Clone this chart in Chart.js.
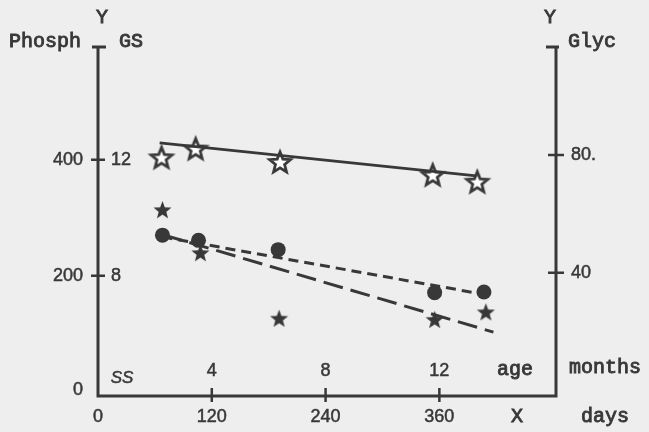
<!DOCTYPE html>
<html>
<head>
<meta charset="utf-8">
<script src="https://cdn.jsdelivr.net/npm/chart.js@4.4.0/dist/chart.umd.min.js"></script>
<style>
  html, body { margin: 0; padding: 0; background: #eeeeee; }
  canvas { display: block; }
</style>
</head>
<body>
<canvas id="ageChart" width="649" height="432"></canvas>
<script>
const openStarDays = [67, 103, 192, 353, 400];
const openStarValues = [404, 419, 396, 374, 362];
const filledStarDays = [68, 108, 191, 355, 409];
const filledStarValues = [314, 240, 127, 125, 138];
const circleDays = [68, 106, 190, 355, 407];
const circleValues = [270, 261, 245, 171, 172];

// fitted lines, end points only
const solidLineDays = [65, 399];
const solidLineValues = [429, 372];
const shortDashDays = [68, 407];
const shortDashValues = [267, 168];
const longDashDays = [68, 417];
const longDashValues = [271, 103];

// ticks
const dayTicks = [0, 120, 240, 360];
const monthTicks = [4, 8, 12];
const phosphTicks = [0, 200, 400];
const gsTicks = [8, 12];
const glycTicks = [40, 80];
const glycTickLabels = ['40', '80.'];

const ink = '#383838';
const mono = '"Liberation Mono", "Courier New", monospace';
const sans = '"Liberation Sans", Arial, sans-serif';

function toPoints(xs, ys) {
  return xs.map(function(x, i) { return { x: x, y: ys[i] }; });
}

function makeStar(outer, inner, fill, lineWidth) {
  const size = Math.ceil(outer * 2 + lineWidth * 2 + 2);
  const c = document.createElement('canvas');
  c.width = size;
  c.height = size;
  const g = c.getContext('2d');
  g.beginPath();
  for (let i = 0; i < 10; i++) {
    const r = i % 2 === 0 ? outer : inner;
    const ang = -Math.PI / 2 + i * Math.PI / 5;
    const px = size / 2 + r * Math.cos(ang);
    const py = size / 2 + 1 + r * Math.sin(ang);
    if (i === 0) g.moveTo(px, py); else g.lineTo(px, py);
  }
  g.closePath();
  g.fillStyle = fill;
  g.fill();
  if (lineWidth) {
    g.lineWidth = lineWidth;
    g.strokeStyle = ink;
    g.lineJoin = 'miter';
    g.stroke();
  }
  return c;
}

const openStar = makeStar(11, 4.8, '#ffffff', 2.8);
const filledStar = makeStar(9.5, 4, ink, 0);

// text with a hairline stroke so it looks like the typed original
function inkText(ctx, str, x, y) {
  ctx.fillText(str, x, y);
  ctx.strokeText(str, x, y);
}

// axes, tick marks and all the labels
const axesPlugin = {
  id: 'paperAxes',
  beforeDatasetsDraw: function(chart) {
    const ctx = chart.ctx;
    const a = chart.chartArea;
    const s = chart.scales;
    ctx.save();
    ctx.strokeStyle = ink;
    ctx.fillStyle = ink;
    ctx.lineWidth = 3;

    ctx.beginPath();
    ctx.moveTo(a.left, a.top);
    ctx.lineTo(a.left, a.bottom);
    ctx.lineTo(a.right, a.bottom);
    ctx.lineTo(a.right, a.top);
    ctx.stroke();

    // caps on the top of both vertical axes
    ctx.beginPath();
    ctx.moveTo(a.left - 6, a.top);
    ctx.lineTo(a.left + 8, a.top);
    ctx.moveTo(a.right - 10, a.top);
    ctx.lineTo(a.right + 3, a.top);
    ctx.stroke();

    ctx.lineWidth = 2.5;
    ctx.beginPath();
    phosphTicks.forEach(function(v) {
      if (v === 0) return;
      const py = s.y.getPixelForValue(v);
      ctx.moveTo(a.left - 7, py);
      ctx.lineTo(a.left + 7, py);
    });
    glycTicks.forEach(function(v) {
      const py = s.y2.getPixelForValue(v);
      ctx.moveTo(a.right - 8, py);
      ctx.lineTo(a.right + 8, py);
    });
    dayTicks.forEach(function(v) {
      if (v === 0) return;
      const px = s.x.getPixelForValue(v);
      ctx.moveTo(px, a.bottom - 8);
      ctx.lineTo(px, a.bottom + 6);
    });
    ctx.stroke();

    ctx.lineWidth = 0.5;
    ctx.textBaseline = 'middle';
    ctx.font = '18px ' + sans;

    ctx.textAlign = 'right';
    phosphTicks.forEach(function(v) {
      inkText(ctx, String(v), a.left - 15, s.y.getPixelForValue(v) - (v === 0 ? 2 : 0));
    });

    ctx.textAlign = 'left';
    gsTicks.forEach(function(v) {
      inkText(ctx, String(v), a.left + 13, s.gs.getPixelForValue(v));
    });
    glycTicks.forEach(function(v, i) {
      inkText(ctx, glycTickLabels[i], a.right + 15, s.y2.getPixelForValue(v));
    });

    ctx.textAlign = 'center';
    dayTicks.forEach(function(v) {
      inkText(ctx, String(v), s.x.getPixelForValue(v), a.bottom + 21);
    });
    monthTicks.forEach(function(v) {
      inkText(ctx, String(v), s.months.getPixelForValue(v), a.bottom - 25);
    });

    ctx.font = 'italic 17px ' + sans;
    inkText(ctx, 'SS', a.left + 24, a.bottom - 18);

    ctx.lineWidth = 0.9;
    ctx.font = '20px ' + mono;
    inkText(ctx, 'Y', a.left + 4, 18);
    inkText(ctx, 'Phosph', 45, 42);
    inkText(ctx, 'GS', a.left + 33, 42);
    inkText(ctx, 'Y', a.right - 6, 18);
    inkText(ctx, 'Glyc', a.right + 36, 42);
    inkText(ctx, 'age', a.right - 41, a.bottom - 26);
    inkText(ctx, 'months', a.right + 49, a.bottom - 28);
    inkText(ctx, 'X', a.right - 39, a.bottom + 21);
    inkText(ctx, 'days', a.right + 49, a.bottom + 21);
    ctx.restore();
  }
};

const ctx = document.getElementById('ageChart').getContext('2d');
const ageChart = new Chart(ctx, {
  type: 'scatter',
  data: {
    datasets: [
      {
        label: 'solid fit',
        data: toPoints(solidLineDays, solidLineValues),
        showLine: true,
        borderColor: ink,
        borderWidth: 2.8,
        pointRadius: 0
      },
      {
        label: 'short dash fit',
        data: toPoints(shortDashDays, shortDashValues),
        showLine: true,
        borderColor: ink,
        borderWidth: 3,
        borderDash: [10, 6],
        pointRadius: 0
      },
      {
        label: 'long dash fit',
        data: toPoints(longDashDays, longDashValues),
        showLine: true,
        borderColor: ink,
        borderWidth: 3,
        borderDash: [20, 8],
        pointRadius: 0
      },
      {
        label: 'open stars',
        data: toPoints(openStarDays, openStarValues),
        pointStyle: openStar,
        pointRadius: 12
      },
      {
        label: 'filled stars',
        data: toPoints(filledStarDays, filledStarValues),
        pointStyle: filledStar,
        pointRadius: 10
      },
      {
        label: 'circles',
        data: toPoints(circleDays, circleValues),
        pointStyle: 'circle',
        pointRadius: 7.5,
        borderWidth: 0,
        backgroundColor: ink
      }
    ]
  },
  options: {
    responsive: false,
    animation: false,
    clip: false,
    layout: {
      padding: { left: 98, right: 93, top: 47, bottom: 36 }
    },
    plugins: {
      legend: { display: false },
      tooltip: { enabled: false }
    },
    scales: {
      x: { type: 'linear', display: false, min: 0, max: 483 },
      months: { type: 'linear', axis: 'x', display: false, min: 0, max: 483 / 30 },
      y: { type: 'linear', display: false, min: -7, max: 594 },
      gs: { type: 'linear', axis: 'y', display: false, min: 4 - 7 / 50, max: 4 + 594 / 50 },
      y2: { type: 'linear', axis: 'y', display: false, min: -1.9, max: 116.7 }
    }
  },
  plugins: [axesPlugin]
});
</script>
</body>
</html>
